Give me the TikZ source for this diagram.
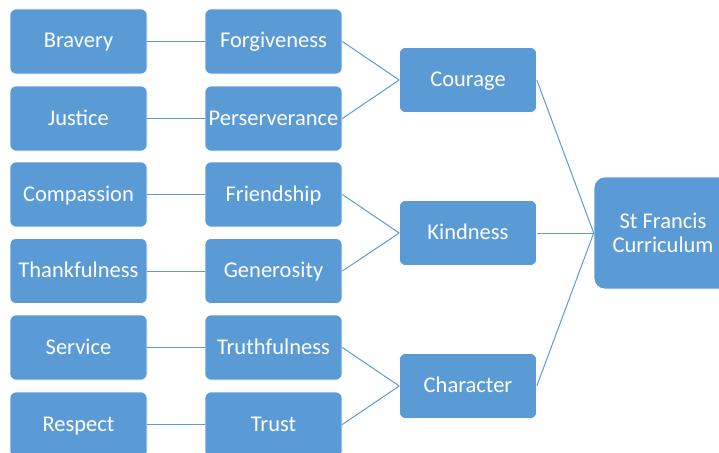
\documentclass[tikz,border=0pt]{standalone}
\usepackage{fontspec}
\setmainfont{Carlito}
\usepackage{tikz}
\definecolor{boxblue}{HTML}{5B9BD5}
\definecolor{lineblue}{HTML}{5B9BD5}

\begin{document}
\begin{tikzpicture}[x=1pt,y=-1pt,
		basebox/.style={rectangle,fill=boxblue,draw=white,line width=0.6pt,text=white,inner sep=0pt,align=center,font=\fontsize{22.5}{24}\selectfont},
		box/.style={basebox,rounded corners=6pt,minimum width=137pt,minimum height=65pt,text height=14.5pt,text depth=1.5pt},
		bigbox/.style={basebox,minimum width=138pt,minimum height=112pt,rounded corners=11pt},
		link/.style={draw=lineblue,line width=1pt}]
			%\draw[help lines] (0,0) grid (719,452);
			\clip (0,0) rectangle (719,452);
			% left column
			\node[box] (bravery) at (78.5,41.5) {Bravery};
			\node[box] (justice) at (78.5,118.5) {Justice};
			\node[box] (compassion) at (78.5,194.5) {Compassion};
			\node[box] (thankfulness) at (78.5,271) {Thankfulness};
			\node[box] (service) at (78.5,347.5) {Service};
			\node[box] (respect) at (78.5,424.5) {Respect};
			% second column
			\node[box] (forgiveness) at (273.5,41.5) {Forgiveness};
			\node[box] (perserverance) at (273.5,118.5) {Perserverance};
			\node[box] (friendship) at (273.5,194.5) {Friendship};
			\node[box] (generosity) at (273.5,271) {Generosity};
			\node[box] (truthfulness) at (273.5,347.5) {Truthfulness};
			\node[box] (trust) at (273.5,424.5) {Trust};
			% third column
			\node[box] (courage) at (468,80) {Courage};
			\node[box] (kindness) at (468,233) {Kindness};
			\node[box] (character) at (468,386) {Character};
			% last
			\node[bigbox] (curriculum) at (663,233) {St Francis\\Curriculum};

			\draw[link] (bravery.east) -- (forgiveness.west);
			\draw[link] (justice.east) -- (perserverance.west);
			\draw[link] (compassion.east) -- (friendship.west);
			\draw[link] (thankfulness.east) -- (generosity.west);
			\draw[link] (service.east) -- (truthfulness.west);
			\draw[link] (respect.east) -- (trust.west);

			\draw[link] (forgiveness.east) -- (courage.west);
			\draw[link] (perserverance.east) -- (courage.west);
			\draw[link] (friendship.east) -- (kindness.west);
			\draw[link] (generosity.east) -- (kindness.west);
			\draw[link] (truthfulness.east) -- (character.west);
			\draw[link] (trust.east) -- (character.west);

			\draw[link] (courage.east) -- (curriculum.west);
			\draw[link] (kindness.east) -- (curriculum.west);
			\draw[link] (character.east) -- (curriculum.west);
		\end{tikzpicture}
\end{document}
